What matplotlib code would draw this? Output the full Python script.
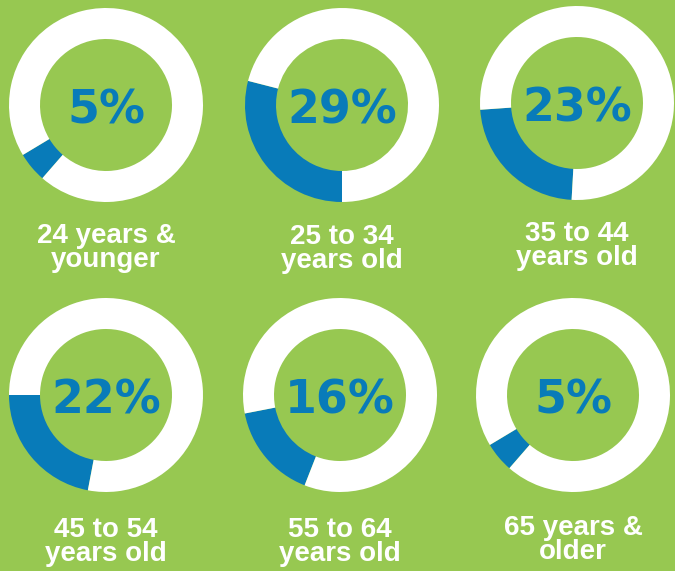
"""Donut grid: share of respondents by age group."""

import matplotlib

matplotlib.use("Agg")
from matplotlib import pyplot as plt

# data
age_labels = [
    "24 years &\nyounger",
    "25 to 34\nyears old",
    "35 to 44\nyears old",
    "45 to 54\nyears old",
    "55 to 64\nyears old",
    "65 years &\nolder",
]
shares = [5, 29, 23, 22, 16, 5]

# layout (pixel space, origin at top left)
W, H = 675, 571
centers = [(106, 105), (342, 105), (577, 103), (106, 395), (340, 395), (573, 395)]
label_y = [248, 249, 246, 542, 542, 540]
start_angles = [211, 165.6, 184, 180, 191, 211]
outer_r = 97
ring_w = 31

GREEN = "#97c851"
BLUE = "#087bb9"


def main() -> None:
    fig = plt.figure(figsize=(W / 100, H / 100), dpi=100)
    fig.patch.set_facecolor(GREEN)
    ax = fig.add_axes([0, 0, 1, 1])
    for (cx, cy), share, start, label, ly in zip(centers, shares, start_angles, age_labels, label_y):
        ax.pie(
            [share, 100 - share],
            colors=[BLUE, "white"],
            center=(cx, H - cy),
            radius=outer_r,
            startangle=start,
            counterclock=True,
            wedgeprops=dict(width=ring_w, linewidth=0),
            frame=True,
        )
        ax.text(cx, H - cy - 6, f"{share}%", ha="center", va="center",
                fontsize=33, fontweight="bold", color=BLUE, family="DejaVu Sans")
        ax.text(cx, H - ly, label, ha="center", va="center", fontsize=20,
                fontweight="bold", color="white", family="Liberation Sans",
                linespacing=0.88)
    ax.set_xlim(0, W)
    ax.set_ylim(0, H)
    ax.set_aspect("equal")
    ax.set_facecolor(GREEN)
    ax.axis("off")
    fig.savefig("out.png", dpi=100, facecolor=GREEN)


if __name__ == "__main__":
    main()
